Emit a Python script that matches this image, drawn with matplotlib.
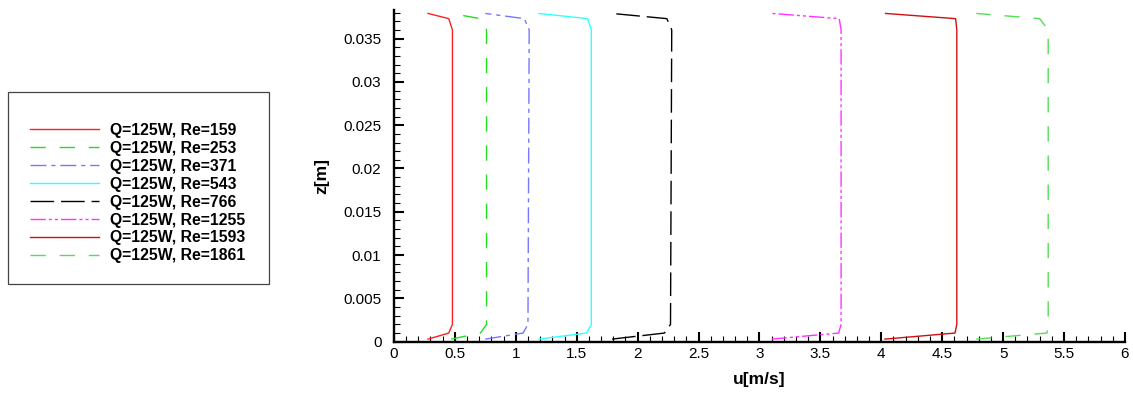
import matplotlib
matplotlib.use('Agg')
import matplotlib.pyplot as plt
from matplotlib.patches import Rectangle
from matplotlib.ticker import MultipleLocator, FuncFormatter

plt.rcParams['font.family'] = ['Liberation Sans', 'DejaVu Sans']
plt.rcParams['lines.scale_dashes'] = False

# velocity profiles u(z)
z_levels = [0.0003, 0.001, 0.002, 0.036, 0.0373, 0.0379]
u_159 = [0.28, 0.45, 0.48, 0.48, 0.45, 0.28]
u_253 = [0.47, 0.71, 0.76, 0.76, 0.71, 0.47]
u_371 = [0.75, 1.06, 1.10, 1.11, 1.07, 0.75]
u_543 = [1.19, 1.58, 1.62, 1.62, 1.59, 1.19]
u_766 = [1.79, 2.22, 2.27, 2.28, 2.24, 1.79]
u_1255 = [3.10, 3.65, 3.67, 3.67, 3.655, 3.105]
u_1593 = [4.03, 4.605, 4.62, 4.62, 4.61, 4.035]
u_1861 = [4.78, 5.36, 5.37, 5.37, 5.30, 4.78]

labels = ['Q=125W, Re=159', 'Q=125W, Re=253', 'Q=125W, Re=371', 'Q=125W, Re=543',
          'Q=125W, Re=766', 'Q=125W, Re=1255', 'Q=125W, Re=1593', 'Q=125W, Re=1861']
profiles = [u_159, u_253, u_371, u_543, u_766, u_1255, u_1593, u_1861]

styles = [
    dict(color='#ff2020', ls='-'),
    dict(color='#22dd22', dashes=(11, 10)),
    dict(color='#7777ff', dashes=(11.5, 3.5, 3, 3.5)),
    dict(color='#33ffff', ls='-'),
    dict(color='black', dashes=(17, 5)),
    dict(color='#ff33ff', dashes=(11, 2.2, 2.2, 2.2, 2.2, 2.2)),
    dict(color='#d01010', ls='-'),
    dict(color='#55dd55', dashes=(11, 10)),
]

fig = plt.figure(figsize=(11.33, 3.93), dpi=100)
ax = fig.add_axes([0.3477, 0.1305, 0.6452, 0.8441])

for u, lab, st in zip(profiles, labels, styles):
    ax.plot(u, z_levels, lw=1.0, label=lab, **st)

ax.set_xlim(0, 6)
ax.set_ylim(0, 0.0383)
ax.xaxis.set_major_locator(MultipleLocator(0.5))
ax.xaxis.set_minor_locator(MultipleLocator(0.1))
ax.yaxis.set_major_locator(MultipleLocator(0.005))
ax.yaxis.set_minor_locator(MultipleLocator(0.001))
fmt = FuncFormatter(lambda v, p: '%g' % round(v, 6))
ax.xaxis.set_major_formatter(fmt)
ax.yaxis.set_major_formatter(fmt)

for s in ['top', 'right']:
    ax.spines[s].set_visible(False)
for s in ['left', 'bottom']:
    ax.spines[s].set_linewidth(1.7)
ax.tick_params(which='major', direction='in', length=7, width=1.5, labelsize=11)
ax.tick_params(which='minor', direction='in', length=4.5, width=0.8)
ax.tick_params(axis='x', pad=4)
ax.tick_params(axis='y', pad=9)

ax.set_xlabel('u[m/s]', fontsize=12.5, fontweight='bold')
ax.set_ylabel('z[m]', fontsize=12.5, fontweight='bold')
ax.xaxis.set_label_coords(0.5, -0.09)
ax.yaxis.set_label_coords(-0.088, 0.5)

fig.add_artist(Rectangle((0.00706, 0.2774), 0.2304, 0.4885, transform=fig.transFigure,
                         fill=False, edgecolor='#444444', lw=0.9))
fig.legend(loc='upper left', bbox_to_anchor=(0.0194, 0.708), frameon=False,
           borderpad=0, prop=dict(size=11.3, weight='bold'), handlelength=4.4,
           handletextpad=0.7, labelspacing=0.19)

fig.savefig('out.png', dpi=100)
